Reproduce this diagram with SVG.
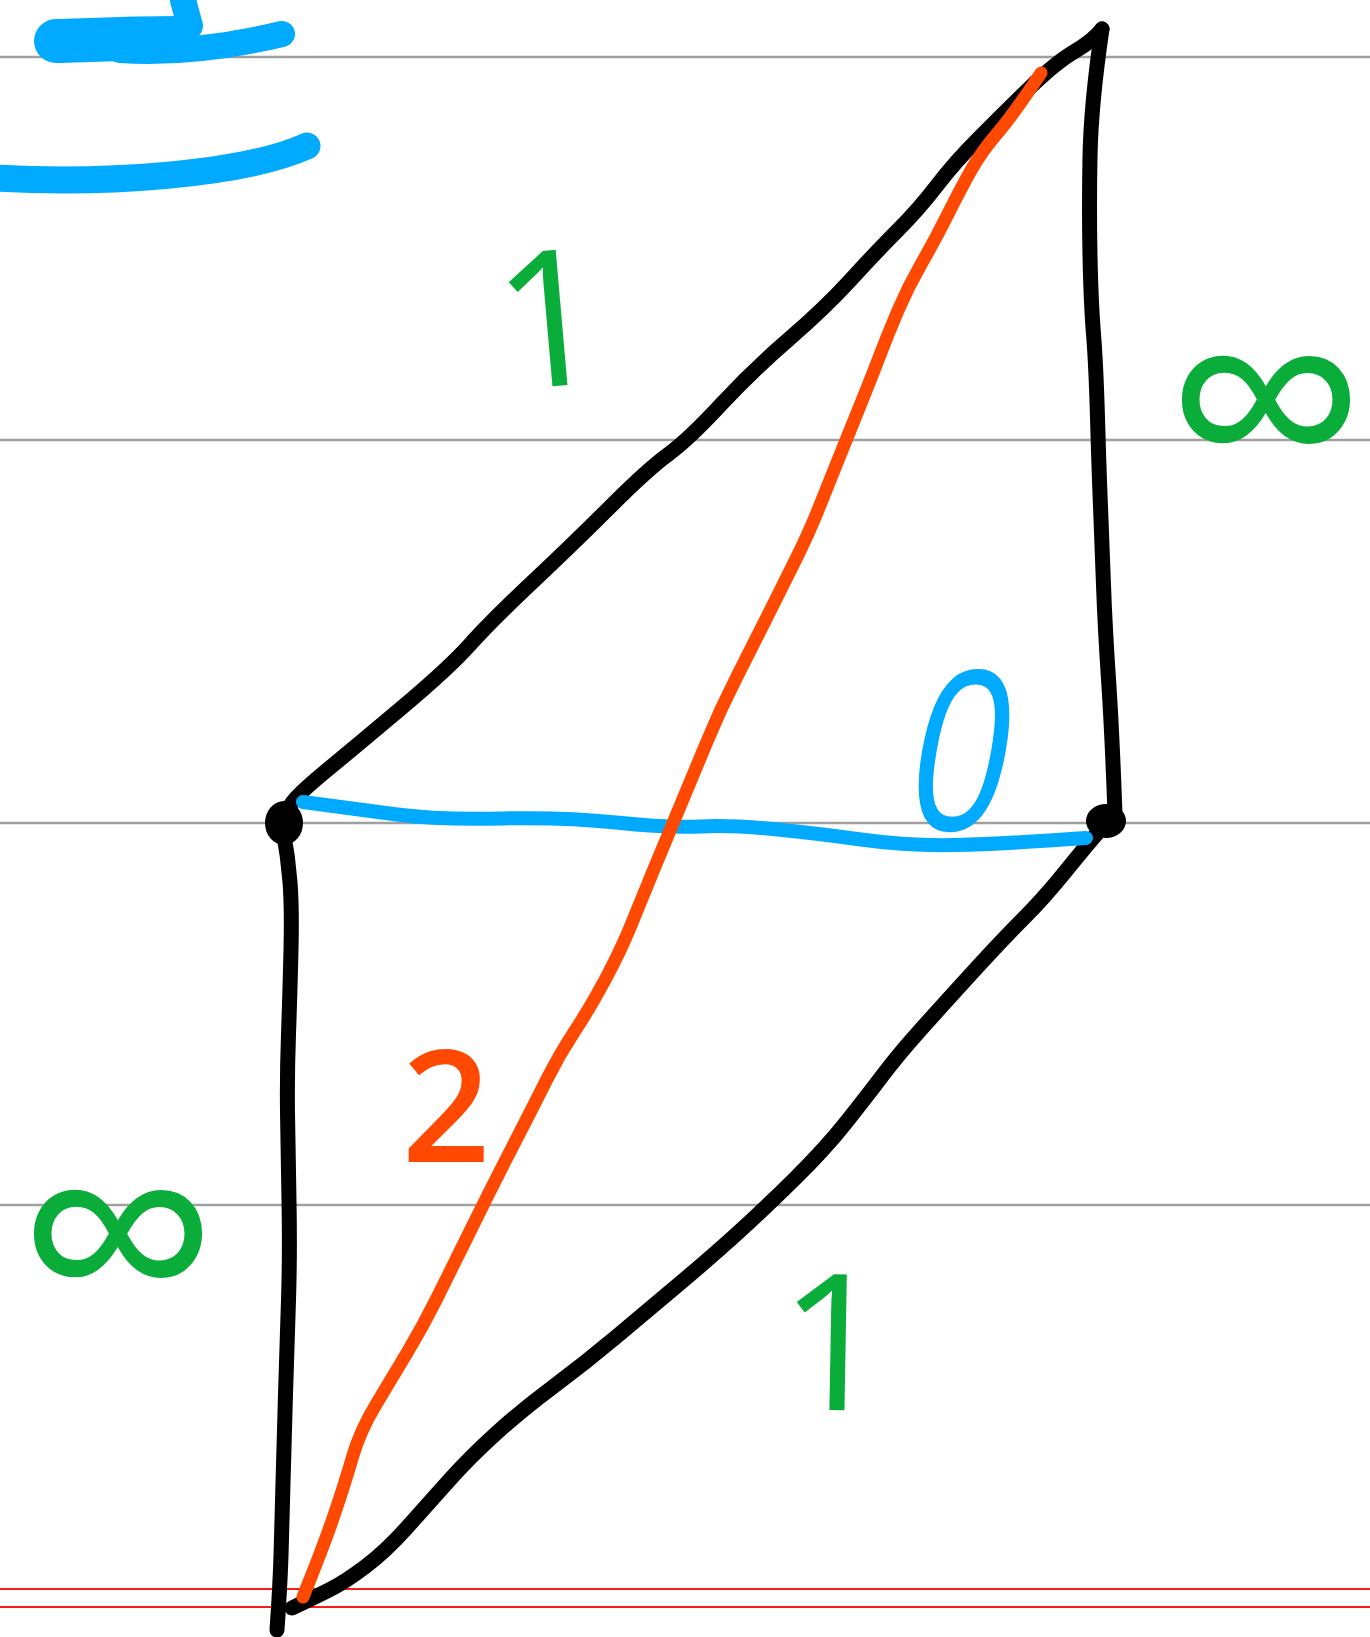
<svg xmlns="http://www.w3.org/2000/svg" width="1370" height="1637" viewBox="0 0 1370 1637">
<style>
.rule{stroke:#a0a0a0;stroke-width:2.5;fill:none}
.margin{stroke:#ff1a1a;stroke-width:2;fill:none}
.ink{fill:none;stroke-linecap:round;stroke-linejoin:round}
.blk{stroke:#000;stroke-width:15}
.org{stroke:#ff4800;stroke-width:13}
.blu{stroke:#00aaff;stroke-width:14}
.grn{fill:#0aad3a}
.lbl{font-family:"Open Sans","DejaVu Sans",sans-serif}
</style>
<rect width="1370" height="1637" fill="#fff"/>
<g id="ruling">
<line class="rule" x1="0" y1="57" x2="1370" y2="57"/>
<line class="rule" x1="0" y1="440" x2="1370" y2="440"/>
<line class="rule" x1="0" y1="823" x2="1370" y2="823"/>
<line class="rule" x1="0" y1="1205" x2="1370" y2="1205"/>
<line class="margin" x1="0" y1="1589" x2="1370" y2="1589"/>
<line class="margin" x1="0" y1="1607" x2="1370" y2="1607"/>
</g>
<g id="scribble">
<path class="ink" stroke="#00aaff" stroke-width="26" d="M183,0 L190,26"/>
<path class="ink" stroke="#00aaff" stroke-width="44" d="M56,41 C90,40 140,38 175,38"/>
<path class="ink" stroke="#00aaff" stroke-width="26" d="M120,50 C180,54 240,44 282,34"/>
<path class="ink" stroke="#00aaff" stroke-width="27" d="M-5,178 C100,184 240,176 307,146"/>
</g>
<g id="connectors">
<path id="edge-top-left" class="ink blk" d="M286,812 L292,803 Q298,794 326.5,770.5 Q355,747 402,707.5 Q449,668 470,644.5 Q491,621 532.5,582 Q574,543 610.5,506.5 Q647,470 668,454.5 Q689,439 720.5,405 Q752,371 788.5,339.5 Q825,308 851,279.5 Q877,251 898,230 Q919,209 937,185.5 Q955,162 978.5,138.5 Q1002,115 1028.5,89 Q1055,63 1074.5,51.5 Q1094,40 1102,29"/>
<path id="edge-top-right" class="ink blk" d="M1102,29 Q1091,104 1090,156.5 Q1089,209 1090,256 Q1091,303 1093.5,334 Q1096,365 1097.5,417.5 Q1099,470 1100.5,506.5 Q1102,543 1103.5,585 Q1105,627 1108.5,679 Q1112,731 1115,814"/>
<path id="edge-right-bottom" class="ink blk" d="M1100,830 Q1086,846 1065,872 Q1044,898 1023,919 Q1002,940 971,974 Q940,1008 919,1031.5 Q898,1055 882.5,1075.5 Q867,1096 846,1122.5 Q825,1149 793.5,1180 Q762,1211 736,1234.5 Q710,1258 678.5,1284.5 Q647,1311 616,1337 Q585,1363 553.5,1386.5 Q522,1410 496,1433.5 Q470,1457 449,1480.5 Q428,1504 407,1527.5 Q386,1551 365.5,1566.5 Q345,1582 329,1590 Q313,1598 292,1608"/>
<path id="edge-left-bottom" class="ink blk" d="M283,830 Q288,856 290,882 Q292,908 291,950 Q290,992 288.5,1034 Q287,1076 287.5,1112.5 Q288,1149 289,1201 Q290,1253 288.5,1300 Q287,1347 285.5,1394 Q284,1441 283,1483 Q282,1525 281,1556 Q280,1587 277,1630"/>
<path id="edge-left-right" class="ink blu" d="M303,802 Q355,809 397,814.5 Q439,820 501.5,818.5 Q564,817 616,822.5 Q668,828 699.5,826.5 Q731,825 772.5,829 Q814,833 861,839.5 Q908,846 955,845 Q1002,844 1086,838"/>
<path id="edge-diagonal" class="ink org" d="M1041,73 Q1013,115 997.5,133 Q982,151 971.5,169.5 Q961,188 948,214 Q935,240 921.5,263.5 Q908,287 898,310.5 Q888,334 880,355 Q872,376 861.5,402 Q851,428 840.5,454 Q830,480 819.5,506.5 Q809,533 793.5,564 Q778,595 765,621 Q752,647 736,678.5 Q720,710 707,741.5 Q694,773 681,804 Q668,835 655,866.5 Q642,898 631.5,924 Q621,950 605.5,979 Q590,1008 574.5,1031.5 Q559,1055 546,1081 Q533,1107 517,1138 Q501,1169 488,1195 Q475,1221 462,1247.5 Q449,1274 436,1300 Q423,1326 407.5,1352 Q392,1378 376,1404.5 Q360,1431 352.5,1457 Q345,1483 334.5,1514 Q324,1545 303,1597"/>
</g>
<g id="node-left">
<ellipse cx="284" cy="823" rx="19" ry="22" fill="#000"/>
</g>
<g id="node-right">
<ellipse cx="1106" cy="821" rx="20" ry="17" fill="#000"/>
</g>
<g id="labels">
<text class="lbl grn" font-weight="400" font-size="190" text-anchor="middle" transform="translate(555,386) rotate(-5)">1</text>
<text class="lbl grn" font-weight="400" font-size="190" text-anchor="middle" transform="translate(832,1410) rotate(1)">1</text>
<text class="lbl" fill="#ff4800" font-weight="600" font-size="155" text-anchor="middle" x="446" y="1162">2</text>
<text class="lbl" fill="#00aaff" font-weight="500" font-size="222" text-anchor="middle" transform="translate(950,830) skewX(-10) scale(0.8,1)">0</text>
<text class="lbl grn" font-weight="400" font-size="285" text-anchor="middle" x="1266" y="500">∞</text>
<text class="lbl grn" font-weight="400" font-size="285" text-anchor="middle" x="118" y="1334">∞</text>
</g>
</svg>
